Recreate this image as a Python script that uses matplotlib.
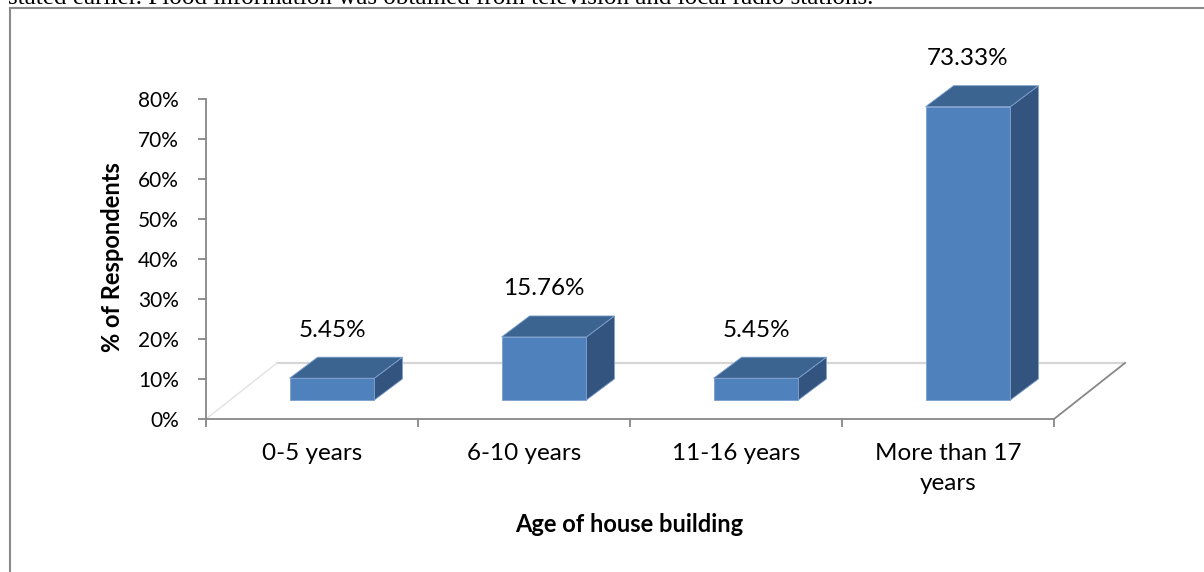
import matplotlib
matplotlib.use("Agg")
import matplotlib.pyplot as plt
import matplotlib.transforms as mtransforms
from matplotlib.patches import Polygon
from matplotlib.lines import Line2D

# ---------------- data ----------------
categories = ["0-5 years", "6-10 years", "11-16 years", "More than 17\nyears"]
values = [5.45, 15.76, 5.45, 73.33]
value_labels = ["5.45%", "15.76%", "5.45%", "73.33%"]
y_ticks = [0, 10, 20, 30, 40, 50, 60, 70, 80]
y_tick_labels = ["0%", "10%", "20%", "30%", "40%", "50%", "60%", "70%", "80%"]
x_title = "Age of house building"
y_title = "% of Respondents"
header_text = "stated earlier. Flood information was obtained from television and local radio stations."

# ---------------- style ----------------
plt.rcParams["font.family"] = ["Lato", "DejaVu Sans"]
FRONT = "#4f81bd"
TOP = "#3c6491"
SIDE = "#32547e"
EDGE = "#7d9fcd"
AXIS_GRAY = "#878787"

W, H = 1204, 572
DPI = 100
fig = plt.figure(figsize=(W / DPI, H / DPI), dpi=DPI)
fig.patch.set_facecolor("white")


def px2pt(p):
    return p * 72.0 / DPI


n = len(categories)
ax = fig.add_axes([206 / W, (H - 419) / H, 848 / W, 320 / H])
ax.set_facecolor("none")
ax.set_xlim(-0.5, n - 0.5)
ax.set_ylim(y_ticks[0], y_ticks[-1])

ppx = ax.bbox.width / n                      # pixels per category
ppy = ax.bbox.height / (y_ticks[-1] - y_ticks[0])  # pixels per percent

# ---------------- floor (3D) ----------------
fdx, fdy = 71 / ppx, 56 / ppy
x0, x1 = -0.5, n - 0.5
ax.add_patch(Polygon([(x0, 0), (x1, 0), (x1 + fdx, fdy), (x0 + fdx, fdy)],
                     closed=True, fc="white", ec="none", zorder=1, clip_on=False))
ax.add_line(Line2D([x0 + fdx, x1 + fdx], [fdy, fdy], color="#d6d6d6", lw=1.6,
                   zorder=1.2, clip_on=False))
ax.add_line(Line2D([x0, x0 + fdx], [0, fdy], color="#e2e2e2", lw=1.0,
                   zorder=1.2, clip_on=False))
ax.add_line(Line2D([x1, x1 + fdx], [0, fdy], color=AXIS_GRAY, lw=1.3,
                   zorder=1.2, clip_on=False))

# ---------------- 3D bars ----------------
shift = mtransforms.ScaledTranslation(20 / DPI, 19 / DPI, fig.dpi_scale_trans)
tr_front = ax.transData + shift
dx, dy = 28 / ppx, 21 / ppy
half = 0.2
for i, v in enumerate(values):
    xl, xr = i - half, i + half
    side = Polygon([(xr, 0), (xr + dx, dy), (xr + dx, v + dy), (xr, v)], closed=True,
                   fc=SIDE, ec=EDGE, lw=0.6, transform=tr_front, zorder=3, clip_on=False)
    top = Polygon([(xl, v), (xr, v), (xr + dx, v + dy), (xl + dx, v + dy)], closed=True,
                  fc=TOP, ec=EDGE, lw=0.6, transform=tr_front, zorder=3, clip_on=False)
    front = Polygon([(xl, 0), (xr, 0), (xr, v), (xl, v)], closed=True,
                    fc=FRONT, ec=EDGE, lw=0.6, transform=tr_front, zorder=4, clip_on=False)
    for p in (side, top, front):
        ax.add_patch(p)
    ax.annotate(value_labels[i], xy=(i, v), xycoords="data",
                xytext=(px2pt(20), px2pt(67)), textcoords="offset points",
                ha="center", va="center", fontsize=17.5, color="black", zorder=5)

# ---------------- axes ----------------
for s in ("top", "right"):
    ax.spines[s].set_visible(False)
for s in ("left", "bottom"):
    ax.spines[s].set_color(AXIS_GRAY)
    ax.spines[s].set_linewidth(1.3)
    ax.spines[s].set_zorder(2)

ax.set_yticks(y_ticks)
ax.set_yticklabels(y_tick_labels)
ax.tick_params(axis="y", direction="out", length=px2pt(8), width=1.3,
               color=AXIS_GRAY, pad=px2pt(19), labelsize=15, labelcolor="black")

ax.set_xticks([i - 0.5 for i in range(n + 1)])
ax.set_xticklabels([])
ax.set_xticks(list(range(n)), minor=True)
ax.set_xticklabels(categories, minor=True)
ax.tick_params(axis="x", which="major", direction="out", length=px2pt(8), width=1.3,
               color=AXIS_GRAY)
ax.tick_params(axis="x", which="minor", length=0, pad=px2pt(24), labelsize=17.5,
               labelcolor="black")
for lab in ax.get_xticklabels(minor=True):
    lab.set_linespacing(1.5)

ax.set_xlabel(x_title, fontsize=17, fontweight="bold")
ax.xaxis.set_label_coords((629 - 206) / 848, (419 - 525) / 320)
ax.xaxis.label.set_va("center")
ax.set_ylabel(y_title, fontsize=17, fontweight="bold")
ax.yaxis.set_label_coords((112 - 206) / 848, (419 - 257) / 320)
ax.yaxis.label.set_va("center")

# ---------------- surrounding document bits ----------------
t = fig.text(8 / W, 1 - 4 / H, header_text, family=["Liberation Serif", "DejaVu Serif"],
             fontsize=16, va="baseline", ha="left", color="black")
r = fig.canvas.get_renderer()
w = t.get_window_extent(r).width
t.set_fontsize(16 * 864 / w)

fig.add_artist(Line2D([10 / W, 10 / W], [0, 1 - 8 / H], transform=fig.transFigure,
                      color="#8a8a8a", lw=1.5))
fig.add_artist(Line2D([10 / W, 1], [1 - 8 / H, 1 - 8 / H], transform=fig.transFigure,
                      color="#8a8a8a", lw=1.5))

fig.savefig("out.png", dpi=DPI, facecolor="white")
